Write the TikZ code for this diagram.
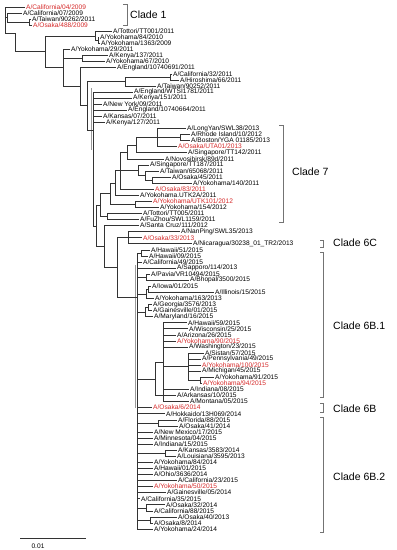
\documentclass[tikz,border=0pt]{standalone}
\usepackage{fontspec}
\setmainfont{Liberation Sans}
\definecolor{redc}{RGB}{214,42,42}
\newcommand\lfnt{\fontsize{6.6}{7}\selectfont}
\newcommand\cfnt{\fontsize{10.5}{12}\selectfont}
\tikzset{
  leaf/.style={anchor=west, inner xsep=1pt, inner ysep=0pt, font=\lfnt, text=black},
  rleaf/.style={leaf, text=redc},
  br/.style={draw=black!80, line width=0.5pt},
  thk/.style={draw=black!40, line width=1.3pt},
  brk/.style={draw=black!55, line width=0.6pt},
  cladetxt/.style={anchor=west, inner sep=0pt, font=\cfnt}
}
\newcommand\mkleaf[4]{\node[#4] (L#1) at (#2,{7+(#1-1)*6.07}) {#3};}
\newcommand\ed[2]{\draw[br] (#1) |- (#2);}
\begin{document}
\begin{tikzpicture}[x=1pt,y=-1pt]
\useasboundingbox (0,0) rectangle (397,550);
\fill[white] (0,0) rectangle (397,550);
% leaves
\mkleaf{1}{25}{A/California/04/2009}{rleaf}
\mkleaf{2}{22}{A/California/07/2009}{leaf}
\mkleaf{3}{31}{A/Taiwan/90262/2011}{leaf}
\mkleaf{4}{32}{A/Osaka/488/2009}{rleaf}
\mkleaf{5}{112}{A/Tottori/TT001/2011}{leaf}
\mkleaf{6}{99}{A/Yokohama/84/2010}{leaf}
\mkleaf{7}{100}{A/Yokohama/1363/2009}{leaf}
\mkleaf{8}{70}{A/Yokohama/29/2011}{leaf}
\mkleaf{9}{108}{A/Kenya/137/2011}{leaf}
\mkleaf{10}{105}{A/Yokohama/67/2010}{leaf}
\mkleaf{11}{116}{A/England/10740691/2011}{leaf}
\mkleaf{12}{172}{A/California/32/2011}{leaf}
\mkleaf{13}{179}{A/Hiroshima/66/2011}{leaf}
\mkleaf{14}{156}{A/Taiwan/90252/2011}{leaf}
\mkleaf{15}{133}{A/England/WTSI1781/2011}{leaf}
\mkleaf{16}{132}{A/Kenya/151/2011}{leaf}
\mkleaf{17}{102}{A/New York/09/2011}{leaf}
\mkleaf{18}{127}{A/England/10740664/2011}{leaf}
\mkleaf{19}{102}{A/Kansas/07/2011}{leaf}
\mkleaf{20}{105}{A/Kenya/127/2011}{leaf}
\mkleaf{21}{186}{A/LongYan/SWL38/2013}{leaf}
\mkleaf{22}{190}{A/Rhode Island/10/2012}{leaf}
\mkleaf{23}{190}{A/Boston/YGA 01185/2013}{leaf}
\mkleaf{24}{177}{A/Osaka/UTA01/2013}{rleaf}
\mkleaf{25}{187}{A/Singapore/TT142/2011}{leaf}
\mkleaf{26}{164}{A/Novosibirsk/89d/2011}{leaf}
\mkleaf{27}{149}{A/Singapore/TT187/2011}{leaf}
\mkleaf{28}{159}{A/Taiwan/65068/2011}{leaf}
\mkleaf{29}{171}{A/Osaka/45/2011}{leaf}
\mkleaf{30}{192}{A/Yokohama/140/2011}{leaf}
\mkleaf{31}{154}{A/Osaka/83/2011}{rleaf}
\mkleaf{32}{139}{A/Yokohama.UTK2A/2011}{leaf}
\mkleaf{33}{152}{A/Yokohama/UTK101/2012}{rleaf}
\mkleaf{34}{159}{A/Yokohama/154/2012}{leaf}
\mkleaf{35}{142}{A/Tottori/TT005/2011}{leaf}
\mkleaf{36}{139}{A/FuZhou/SWL1159/2011}{leaf}
\mkleaf{37}{139}{A/Santa Cruz/111/2012}{leaf}
\mkleaf{38}{180}{A/NanPing/SWL35/2013}{leaf}
\mkleaf{39}{142}{A/Osaka/33/2013}{rleaf}
\mkleaf{40}{192}{A/Nicaragua/30238\_01\_TR2/2013}{leaf}
\mkleaf{41}{150}{A/Hawaii/51/2015}{leaf}
\mkleaf{42}{148}{A/Hawaii/09/2015}{leaf}
\mkleaf{43}{142}{A/California/49/2015}{leaf}
\mkleaf{44}{176}{A/Sapporo/114/2013}{leaf}
\mkleaf{45}{150}{A/Pavia/VR10494/2015}{leaf}
\mkleaf{46}{189}{A/Bhopal/3500/2015}{leaf}
\mkleaf{47}{151}{A/Iowa/01/2015}{leaf}
\mkleaf{48}{214}{A/Illinois/15/2015}{leaf}
\mkleaf{49}{154}{A/Yokohama/163/2013}{leaf}
\mkleaf{50}{152}{A/Georgia/3576/2013}{leaf}
\mkleaf{51}{152}{A/Gainesville/01/2015}{leaf}
\mkleaf{52}{153}{A/Maryland/16/2015}{leaf}
\mkleaf{53}{187}{A/Hawaii/59/2015}{leaf}
\mkleaf{54}{188}{A/Wisconsin/25/2015}{leaf}
\mkleaf{55}{176}{A/Arizona/26/2015}{leaf}
\mkleaf{56}{176}{A/Yokohama/90/2015}{rleaf}
\mkleaf{57}{188}{A/Washington/23/2015}{leaf}
\mkleaf{58}{204}{A/Sistan/57/2015}{leaf}
\mkleaf{59}{201}{A/Pennsylvania/49/2015}{leaf}
\mkleaf{60}{201}{A/Yokohama/100/2015}{rleaf}
\mkleaf{61}{201}{A/Michigan/45/2015}{leaf}
\mkleaf{62}{214}{A/Yokohama/91/2015}{leaf}
\mkleaf{63}{202}{A/Yokohama/94/2015}{rleaf}
\mkleaf{64}{189}{A/Indiana/08/2015}{leaf}
\mkleaf{65}{176}{A/Arkansas/10/2015}{leaf}
\mkleaf{66}{189}{A/Montana/05/2015}{leaf}
\mkleaf{67}{152}{A/Osaka/6/2014}{rleaf}
\mkleaf{68}{165}{A/Hokkaido/13H069/2014}{leaf}
\mkleaf{69}{177}{A/Florida/88/2015}{leaf}
\mkleaf{70}{178}{A/Osaka/41/2014}{leaf}
\mkleaf{71}{153}{A/New Mexico/17/2015}{leaf}
\mkleaf{72}{153}{A/Minnesota/04/2015}{leaf}
\mkleaf{73}{153}{A/Indiana/15/2015}{leaf}
\mkleaf{74}{177}{A/Kansas/3583/2014}{leaf}
\mkleaf{75}{176}{A/Louisiana/3595/2013}{leaf}
\mkleaf{76}{153}{A/Yokohama/84/2014}{leaf}
\mkleaf{77}{153}{A/Hawaii/01/2015}{leaf}
\mkleaf{78}{153}{A/Ohio/3636/2014}{leaf}
\mkleaf{79}{177}{A/California/23/2015}{leaf}
\mkleaf{80}{153}{A/Yokohama/50/2015}{rleaf}
\mkleaf{81}{166}{A/Gainesville/05/2014}{leaf}
\mkleaf{82}{140}{A/California/35/2015}{leaf}
\mkleaf{83}{165}{A/Osaka/32/2014}{leaf}
\mkleaf{84}{153}{A/California/88/2015}{leaf}
\mkleaf{85}{177}{A/Osaka/40/2013}{leaf}
\mkleaf{86}{153}{A/Osaka/8/2014}{leaf}
\mkleaf{87}{153}{A/Yokohama/24/2014}{leaf}
% internal nodes
\coordinate (R) at (5,7);
\coordinate (C1a) at (7,17.6);
\coordinate (C1b) at (29,22.2);
\coordinate (B1) at (15,33);
\coordinate (B2) at (45,51.4);
\coordinate (G1) at (95,35.8);
\coordinate (G1b) at (98,40.4);
\coordinate (B3) at (63,67.7);
\coordinate (G2b) at (82,58.6);
\coordinate (B4) at (80,86.4);
\coordinate (B5) at (87,105.7);
\coordinate (G3) at (125,81.4);
\coordinate (G3a) at (170,76.8);
\coordinate (BB) at (93,130);
\coordinate (LB1) at (96,225.8);
\coordinate (C7) at (100,205);
\coordinate (c7i) at (110,193.5);
\coordinate (c7g) at (115,182.8);
\coordinate (c7f) at (120,170.5);
\coordinate (c7d) at (127,151.9);
\coordinate (c7c) at (136,145.1);
\coordinate (c7b) at (157,137.5);
\coordinate (c7a) at (180,137.5);
\coordinate (c7e3) at (138,170.1);
\coordinate (c7e2) at (145,175.5);
\coordinate (c7e1) at (152,180);
\coordinate (c7h) at (135,204.2);
\coordinate (c7j) at (107,216.4);
\coordinate (C6) at (104,246.5);
\coordinate (C6sub) at (117,267.4);
\coordinate (C6C) at (128,237.7);
\coordinate (C6B) at (137,297);
\coordinate (H) at (141,252.8);
\coordinate (P) at (146,277.1);
\coordinate (I1) at (148,289.2);
\coordinate (I2) at (146,293.8);
\coordinate (Ga) at (148,307.5);
\coordinate (Ma) at (145,312);
\coordinate (S) at (163,362.1);
\coordinate (S0) at (155,378.8);
\coordinate (S1) at (188,366.7);
\coordinate (S2) at (200,380.3);
\coordinate (F) at (158,422.8);
\coordinate (K) at (165,453.2);
\coordinate (O1) at (146,507.8);
\coordinate (O2) at (150,519.9);
% thick overlapping segments
\draw[thk] (91.8,88) -- (91.8,150);
\draw[thk] (135.6,265) -- (135.6,408);
% branches
\ed{R}{L1.west} \ed{R}{C1a} \ed{R}{B1}
\ed{C1a}{L2.west} \ed{C1a}{C1b}
\ed{C1b}{L3.west} \ed{C1b}{L4.west}
\ed{B1}{B2}
\ed{B2}{G1} \ed{B2}{B3}
\ed{G1}{L5.west} \ed{G1}{G1b}
\ed{G1b}{L6.west} \ed{G1b}{L7.west}
\ed{B3}{L8.west} \ed{B3}{G2b} \ed{B3}{B4}
\ed{G2b}{L9.west} \ed{G2b}{L10.west}
\ed{B4}{L11.west} \ed{B4}{B5}
\ed{B5}{G3} \ed{B5}{BB}
\ed{G3}{G3a} \ed{G3}{L14.west}
\ed{G3a}{L12.west} \ed{G3a}{L13.west}
\foreach \i in {15,...,20} {\ed{BB}{L\i.west}}
\ed{BB}{LB1}
\ed{LB1}{C7} \ed{LB1}{C6}
\ed{C7}{c7i} \ed{C7}{c7j}
\ed{c7i}{c7g} \ed{c7i}{c7h}
\ed{c7g}{c7f} \ed{c7g}{L32.west}
\ed{c7f}{c7d} \ed{c7f}{c7e3} \ed{c7f}{L31.west}
\ed{c7d}{c7c} \ed{c7d}{L26.west}
\ed{c7c}{c7b} \ed{c7c}{L25.west}
\ed{c7b}{L21.west} \ed{c7b}{c7a} \ed{c7b}{L24.west}
\ed{c7a}{L22.west} \ed{c7a}{L23.west}
\ed{c7e3}{L27.west} \ed{c7e3}{c7e2}
\ed{c7e2}{L28.west} \ed{c7e2}{c7e1}
\ed{c7e1}{L29.west} \ed{c7e1}{L30.west}
\ed{c7h}{L33.west} \ed{c7h}{L34.west}
\ed{c7j}{L35.west} \ed{c7j}{L36.west}
\ed{C6}{L37.west} \ed{C6}{C6sub}
\ed{C6sub}{C6C} \ed{C6sub}{C6B}
\ed{C6C}{L38.west} \ed{C6C}{L39.west} \ed{C6C}{L40.west}
\ed{C6B}{H} \ed{C6B}{P} \ed{C6B}{I2} \ed{C6B}{Ma} \ed{C6B}{S0}
\ed{C6B}{F} \ed{C6B}{K} \ed{C6B}{O1} \ed{C6B}{O2}
\foreach \i in {43,44,67,68,71,72,73,76,77,78,79,80,81,82,87} {\ed{C6B}{L\i.west}}
\ed{H}{L41.west} \ed{H}{L42.west}
\ed{P}{L45.west} \ed{P}{L46.west}
\ed{I2}{I1} \ed{I2}{L49.west}
\ed{I1}{L47.west} \ed{I1}{L48.west}
\ed{Ma}{Ga} \ed{Ma}{L52.west}
\ed{Ga}{L50.west} \ed{Ga}{L51.west}
\ed{S0}{S} \ed{S0}{L65.west}
\foreach \i in {53,54,55,56,57,64,66} {\ed{S}{L\i.west}}
\ed{S}{S1}
\foreach \i in {58,59,60,61} {\ed{S1}{L\i.west}}
\ed{S1}{S2}
\ed{S2}{L62.west} \ed{S2}{L63.west}
\ed{F}{L69.west} \ed{F}{L70.west}
\ed{K}{L74.west} \ed{K}{L75.west}
\ed{O1}{L83.west} \ed{O1}{L84.west}
\ed{O2}{L85.west} \ed{O2}{L86.west}
% clade brackets
\draw[brk] (123,4) -- (127,4) -- (127,25) -- (123,25);
\node[cladetxt] (cl1) at (130,14.7) {Clade 1};
\draw[brk] (279,125) -- (283,125) -- (283,222) -- (279,222);
\node[cladetxt] (cl7) at (292,172) {Clade 7};
\draw[brk] (320,240) -- (323,240) -- (323,247) -- (320,247);
\node[cladetxt] (cl6c) at (333,243) {Clade 6C};
\draw[brk] (320,252) -- (323,252) -- (323,397) -- (320,397);
\node[cladetxt] (cl6b1) at (333,326) {Clade 6B.1};
\draw[brk] (320,403) -- (323,403) -- (323,412) -- (320,412);
\node[cladetxt] (cl6b) at (333,409) {Clade 6B};
\draw[brk] (320,417) -- (323,417) -- (323,532) -- (320,532);
\node[cladetxt] (cl6b2) at (333,477) {Clade 6B.2};
% scale bar
\coordinate (sb1) at (20,538);
\coordinate (sb2) at (86,538);
\draw[br] (sb1) -- (sb2);
\node[font=\lfnt, inner sep=0pt] (sbl) at (38,546.5) {0.01};
\end{tikzpicture}
\end{document}
